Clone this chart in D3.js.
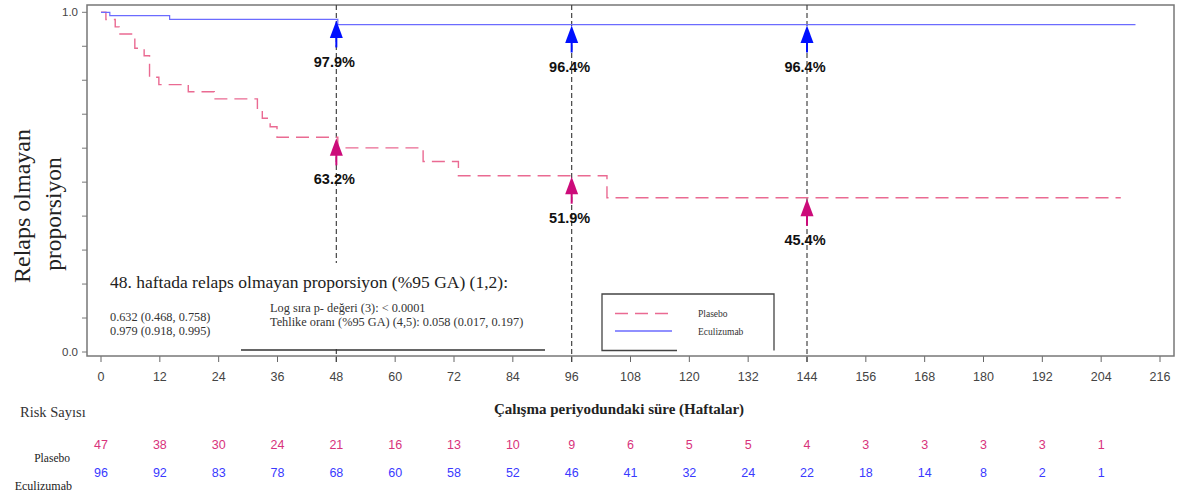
<!DOCTYPE html>
<html><head><meta charset="utf-8">
<script src="https://cdn.jsdelivr.net/npm/d3@7"></script>
<style>body{margin:0;background:#fff}svg{display:block}</style>
</head><body>
<svg id="c" width="1179" height="498"></svg>
<script>
// ---- data ----
const plaseboSteps = [[0,1.0],[1.0,0.979],[2.9,0.957],[3.7,0.936],[6.9,0.894],[8.8,0.872],[9.9,0.809],[11.8,0.787],[17.8,0.766],[23.1,0.745],[31.9,0.714],[32.9,0.688],[34.5,0.663],[35.9,0.632],[48.3,0.601],[65.7,0.561],[72.9,0.519],[103.2,0.454],[208,0.454]];
const eculizumabSteps = [[0,1.0],[1.8,0.99],[14,0.979],[48.3,0.964],[211,0.964]];
const markerWeeks = [48, 96, 144];
const plaseboMarkers = [0.632, 0.519, 0.454];
const eculizumabMarkers = [0.979, 0.964, 0.964];
const plaseboLabels = ["63.2%", "51.9%", "45.4%"];
const eculizumabLabels = ["97.9%", "96.4%", "96.4%"];
const xTicks = d3.range(0, 217, 12);
const yTicks = d3.range(0, 1.0001, 0.1);
const riskWeeks = d3.range(0, 205, 12);
const plaseboRisk = [47,38,30,24,21,16,13,10,9,6,5,5,4,3,3,3,3,1];
const eculizumabRisk = [96,92,83,78,68,60,58,52,46,41,32,24,22,18,14,8,2,1];
const seriesNames = ["Plasebo", "Eculizumab"];

// ---- styles ----
const SERIF = "'Liberation Serif','Times New Roman',serif";
const SANS = "'Liberation Sans',Arial,sans-serif";
const pinkLine = "#ea6a92", blueLine = "#6b6bff";
const pinkArrow = "#cc0b7a", blueArrow = "#0010ff";
const pinkText = "#d8337c", blueText = "#3a3aff";

const svg = d3.select("#c");
const x = d3.scaleLinear().domain([0, 216]).range([101, 1160]);
const y = d3.scaleLinear().domain([0, 1]).range([352, 12.3]);
const frame = {l: 87, t: 5, r: 1174, b: 356};

// y ticks
svg.append("g").selectAll("line").data(yTicks).join("line")
  .attr("x1", frame.l - 5).attr("x2", frame.l)
  .attr("y1", d => y(d)).attr("y2", d => y(d))
  .attr("stroke", "#777").attr("stroke-width", 1);
svg.append("g").selectAll("text").data([0, 1]).join("text")
  .attr("x", 78).attr("y", d => y(d)).attr("dy", "0.35em")
  .attr("text-anchor", "end").attr("font-family", SANS).attr("font-size", 11.5).attr("fill", "#444")
  .text(d => d.toFixed(1));

// x ticks
svg.append("g").selectAll("line").data(xTicks).join("line")
  .attr("x1", d => x(d)).attr("x2", d => x(d))
  .attr("y1", frame.b).attr("y2", frame.b + 6)
  .attr("stroke", "#666").attr("stroke-width", 1);
svg.append("g").selectAll("text").data(xTicks).join("text")
  .attr("x", d => x(d)).attr("y", 377).attr("dy", "0.35em")
  .attr("text-anchor", "middle").attr("font-family", SANS).attr("font-size", 12.5).attr("fill", "#444")
  .text(d => d);

// frame
svg.append("rect").attr("x", frame.l).attr("y", frame.t)
  .attr("width", frame.r - frame.l).attr("height", frame.b - frame.t)
  .attr("fill", "none").attr("stroke", "#777").attr("stroke-width", 1.5);

// vertical reference lines
svg.append("g").selectAll("line").data(markerWeeks).join("line")
  .attr("x1", d => x(d)).attr("x2", d => x(d))
  .attr("y1", frame.t).attr("y2", frame.b + 6)
  .attr("stroke", "#444").attr("stroke-width", 1.2).attr("stroke-dasharray", "5,3");

// white text box covering the lower part
svg.append("rect").attr("x", 100).attr("y", 263).attr("width", 455).attr("height", 86).attr("fill", "#fff");

const line = d3.line().x(d => x(d[0])).y(d => y(d[1])).curve(d3.curveStepAfter);
svg.append("path").datum(plaseboSteps).attr("d", line)
  .attr("fill", "none").attr("stroke", pinkLine).attr("stroke-width", 1.4).attr("stroke-dasharray", "13,7");
svg.append("path").datum(eculizumabSteps).attr("d", line)
  .attr("fill", "none").attr("stroke", blueLine).attr("stroke-width", 1.2);

// arrows
function arrows(vals, labels, color) {
  const g = svg.append("g");
  vals.forEach((v, i) => {
    const cx = x(markerWeeks[i]), tip = y(v) + 1;
    g.append("line").attr("x1", cx).attr("x2", cx).attr("y1", tip + 15).attr("y2", tip + 27)
      .attr("stroke", color).attr("stroke-width", 2);
    g.append("path").attr("d", `M${cx},${tip}L${cx - 6.5},${tip + 17.5}L${cx + 6.5},${tip + 17.5}Z`).attr("fill", color);
    g.append("text").attr("x", cx - 2).attr("y", tip + 41).attr("dy", "0.35em")
      .attr("text-anchor", "middle").attr("font-family", SANS).attr("font-weight", "bold")
      .attr("font-size", 14.5).attr("fill", "#111").text(labels[i]);
  });
}
arrows(eculizumabMarkers, eculizumabLabels, blueArrow);
arrows(plaseboMarkers, plaseboLabels, pinkArrow);

// statistics text
svg.append("text").attr("x", 110).attr("y", 288).attr("font-family", SERIF).attr("font-size", 17.5).attr("fill", "#222")
  .text("48. haftada relaps olmayan proporsiyon (%95 GA) (1,2):");
svg.append("text").attr("x", 110).attr("y", 321).attr("font-family", SERIF).attr("font-size", 12.3).attr("fill", "#333")
  .text("0.632 (0.468, 0.758)");
svg.append("text").attr("x", 110).attr("y", 335).attr("font-family", SERIF).attr("font-size", 12.3).attr("fill", "#333")
  .text("0.979 (0.918, 0.995)");
svg.append("text").attr("x", 270).attr("y", 311.5).attr("font-family", SERIF).attr("font-size", 12.3).attr("fill", "#333")
  .text("Log sıra p- değeri (3): < 0.0001");
svg.append("text").attr("x", 270).attr("y", 325.5).attr("font-family", SERIF).attr("font-size", 12.3).attr("fill", "#333")
  .text("Tehlike oranı (%95 GA) (4,5): 0.058 (0.017, 0.197)");
svg.append("line").attr("x1", 241).attr("x2", 545).attr("y1", 350).attr("y2", 350).attr("stroke", "#333").attr("stroke-width", 1.5);

// legend
const lg = svg.append("g");
lg.append("path").attr("d", "M677,350.5H602V294H774V350.5")
  .attr("fill", "none").attr("stroke", "#444").attr("stroke-width", 1.3);
const legendStyles = [{c: pinkLine, dash: "13,7", w: 1.3}, {c: blueLine, dash: null, w: 1.6}];
seriesNames.forEach((n, i) => {
  const yy = 313.5 + i * 17.5;
  lg.append("line").attr("x1", 615).attr("x2", 672).attr("y1", yy).attr("y2", yy)
    .attr("stroke", legendStyles[i].c).attr("stroke-width", legendStyles[i].w)
    .attr("stroke-dasharray", legendStyles[i].dash);
  lg.append("text").attr("x", 698).attr("y", yy + 3.5).attr("font-family", SERIF).attr("font-size", 9.5)
    .attr("fill", "#333").text(n);
});

// axis titles
svg.append("text").attr("transform", "translate(22,206) rotate(-90)").attr("text-anchor", "middle")
  .attr("dominant-baseline", "central").attr("font-family", SERIF).attr("font-size", 24).attr("fill", "#222")
  .text("Relaps olmayan");
svg.append("text").attr("transform", "translate(53,214) rotate(-90)").attr("text-anchor", "middle")
  .attr("dominant-baseline", "central").attr("font-family", SERIF).attr("font-size", 23.5).attr("fill", "#222")
  .text("proporsiyon");
svg.append("text").attr("x", 619).attr("y", 414).attr("text-anchor", "middle").attr("font-family", SERIF)
  .attr("font-weight", "bold").attr("font-size", 15).attr("fill", "#222")
  .text("Çalışma periyodundaki süre (Haftalar)");

// risk table
svg.append("text").attr("x", 20).attr("y", 417).attr("font-family", SERIF).attr("font-size", 14.5).attr("fill", "#333")
  .text("Risk Sayısı");
svg.append("text").attr("x", 70).attr("y", 461.5).attr("text-anchor", "end").attr("font-family", SERIF).attr("font-size", 11.5).attr("fill", "#222")
  .text(seriesNames[0]);
svg.append("text").attr("x", 72).attr("y", 490).attr("text-anchor", "end").attr("font-family", SERIF).attr("font-size", 12).attr("fill", "#222")
  .text(seriesNames[1]);
svg.append("g").selectAll("text").data(plaseboRisk).join("text")
  .attr("x", (d, i) => x(riskWeeks[i])).attr("y", 445).attr("dy", "0.35em")
  .attr("text-anchor", "middle").attr("font-family", SANS).attr("font-size", 12.5).attr("fill", pinkText)
  .text(d => d);
svg.append("g").selectAll("text").data(eculizumabRisk).join("text")
  .attr("x", (d, i) => x(riskWeeks[i])).attr("y", 472.5).attr("dy", "0.35em")
  .attr("text-anchor", "middle").attr("font-family", SANS).attr("font-size", 12.5).attr("fill", blueText)
  .text(d => d);
</script>
</body></html>
